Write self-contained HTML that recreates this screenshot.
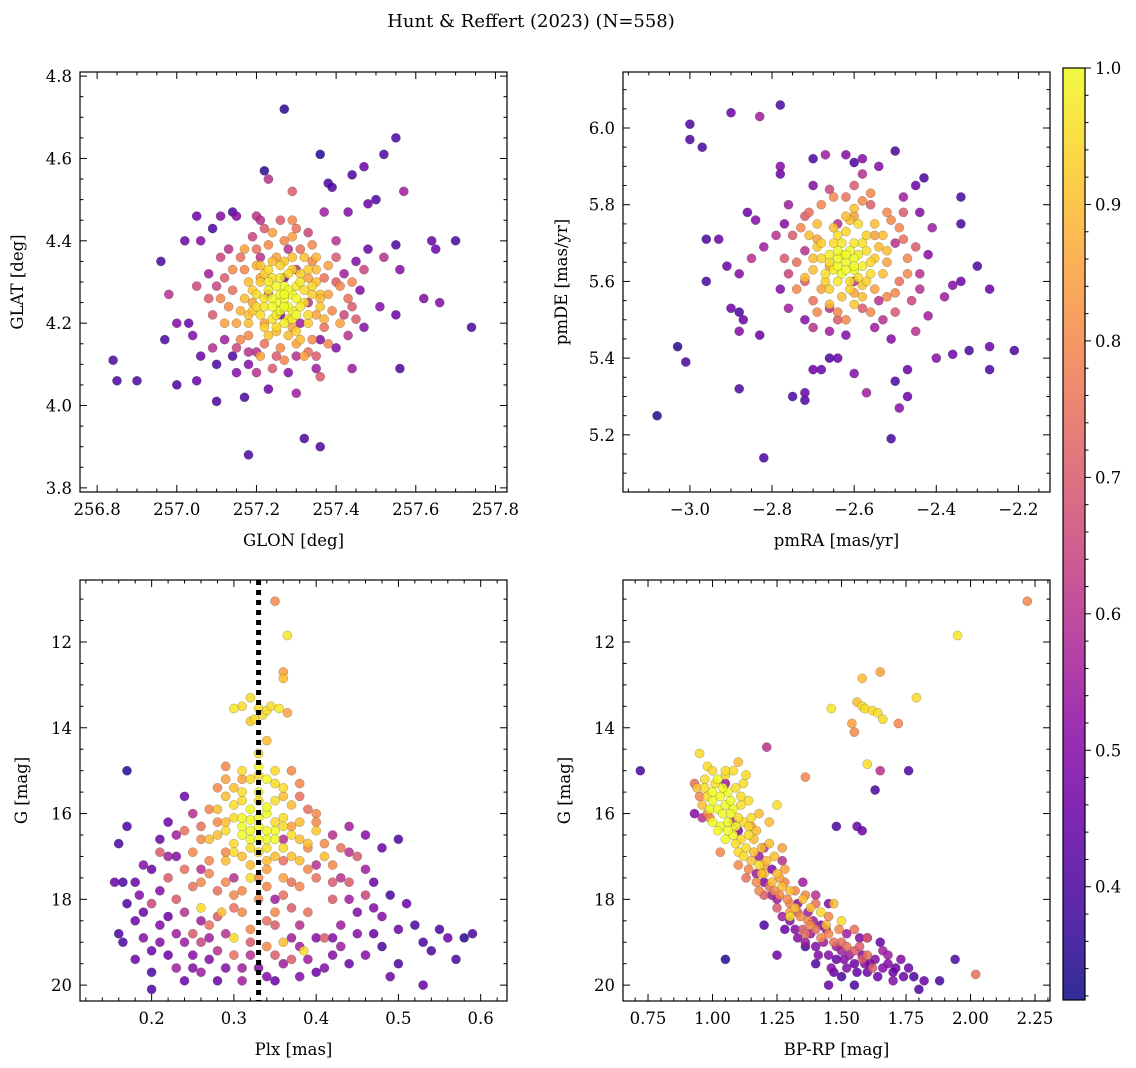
<!DOCTYPE html>
<html><head><meta charset="utf-8"><style>
html,body{margin:0;padding:0;background:#fff;}
svg{display:block;font-family:"DejaVu Serif","Liberation Serif",serif;}
</style></head><body>
<svg id="fig" width="1136" height="1068" viewBox="0 0 1136 1068" xmlns="http://www.w3.org/2000/svg">
<text x="531" y="27" font-size="18" text-anchor="middle">Hunt &amp; Reffert (2023) (N=558)</text>
</svg>
<script>
// ---------- DATA ----------
const p1Points=[[257.27,4.72,.35],[257.55,4.65,.4],[257.36,4.61,.35],[257.52,4.61,.4],[257.22,4.57,.35],[257.23,4.55,.6],[257.44,4.56,.4],[257.47,4.58,.45],[257.29,4.52,.7],[257.38,4.54,.4],[257.39,4.53,.4],[257.50,4.50,.4],[257.48,4.49,.45],[257.57,4.52,.55],[257.43,4.47,.5],[257.37,4.47,.55],[257.05,4.46,.45],[257.11,4.46,.5],[257.14,4.47,.4],[257.15,4.46,.5],[257.20,4.46,.6],[257.21,4.45,.6],[257.09,4.43,.4],[257.02,4.40,.45],[257.06,4.40,.5],[256.96,4.35,.4],[257.64,4.40,.45],[257.70,4.40,.4],[257.65,4.38,.45],[257.56,4.33,.5],[257.55,4.39,.4],[257.48,4.38,.45],[257.52,4.36,.6],[257.45,4.35,.5],[257.47,4.33,.65],[257.42,4.32,.55],[256.98,4.27,.6],[257.40,4.30,.7],[257.62,4.26,.5],[257.66,4.25,.5],[257.74,4.19,.4],[257.51,4.24,.5],[257.55,4.22,.45],[257.45,4.21,.7],[257.47,4.19,.5],[257.43,4.17,.6],[257.36,4.16,.5],[257.40,4.14,.5],[257.00,4.20,.5],[257.03,4.20,.45],[256.97,4.16,.4],[257.04,4.17,.5],[257.06,4.12,.45],[257.09,4.14,.6],[257.12,4.16,.55],[257.14,4.12,.4],[257.18,4.10,.5],[257.10,4.10,.4],[256.84,4.11,.4],[256.85,4.06,.4],[256.90,4.06,.4],[257.00,4.05,.4],[257.05,4.06,.45],[257.10,4.01,.4],[257.17,4.02,.4],[257.23,4.04,.45],[257.30,4.03,.55],[257.36,4.07,.7],[257.44,4.09,.55],[257.56,4.09,.4],[257.28,4.08,.5],[257.25,4.12,.7],[257.30,4.12,.6],[257.33,4.13,.75],[257.20,4.13,.6],[257.32,3.92,.4],[257.36,3.90,.4],[257.18,3.88,.4],[257.20,4.08,.6],[257.15,4.08,.5],
[257.17,4.33,.8],[257.20,4.38,.75],[257.24,4.42,.85],[257.27,4.40,.8],[257.31,4.38,.75],[257.34,4.35,.8],[257.37,4.31,.75],[257.38,4.27,.85],[257.39,4.23,.8],[257.37,4.19,.75],[257.34,4.16,.8],[257.30,4.15,.85],[257.26,4.14,.8],[257.22,4.15,.75],[257.18,4.17,.8],[257.15,4.20,.85],[257.13,4.24,.8],[257.14,4.28,.75],[257.12,4.31,.7],[257.19,4.41,.65],[257.26,4.45,.7],[257.33,4.42,.65],[257.40,4.36,.7],[257.43,4.26,.75],[257.42,4.22,.65],[257.35,4.12,.7],[257.24,4.09,.7],[257.15,4.14,.65],[257.09,4.22,.7],[257.10,4.29,.65],[257.16,4.36,.75],[257.21,4.31,.85],[257.33,4.31,.85],[257.35,4.22,.85],[257.22,4.20,.85],[257.25,4.36,.85],[257.29,4.19,.85],[257.19,4.25,.85],[257.36,4.27,.9],[257.32,4.36,.9],[257.18,4.30,.9],[257.25,4.18,.9],[257.08,4.26,.7],[257.05,4.29,.65],[257.44,4.30,.8],[257.29,4.45,.8],[257.21,4.36,.6],[257.30,4.33,.6],[257.27,4.31,.5],[257.23,4.27,.55],[257.33,4.25,.6],[257.31,4.20,.55],[257.26,4.22,.5],
[257.27,4.26,1],[257.25,4.25,1],[257.29,4.27,1],[257.23,4.28,.98],[257.31,4.24,.98],[257.27,4.29,1],[257.26,4.23,1],[257.22,4.24,.97],[257.30,4.29,.97],[257.24,4.31,.96],[257.28,4.32,.95],[257.32,4.28,.95],[257.33,4.22,.95],[257.29,4.21,.97],[257.24,4.21,.96],[257.21,4.22,.95],[257.20,4.27,.95],[257.26,4.34,.93],[257.31,4.32,.93],[257.34,4.27,.93],[257.30,4.18,.93],[257.22,4.19,.93],[257.19,4.23,.92],[257.21,4.30,.92],[257.27,4.20,.98],[257.25,4.29,1],[257.28,4.24,1],[257.35,4.30,.9],[257.17,4.26,.9],[257.28,4.17,.9],[257.24,4.35,.9],[257.23,4.33,.95],[257.33,4.33,.92],[257.36,4.24,.92],[257.18,4.20,.9],[257.29,4.36,.9],
[257.17,4.38,.85],[257.23,4.39,.8],[257.29,4.41,.85],[257.34,4.39,.8],[257.38,4.34,.85],[257.41,4.29,.8],[257.41,4.20,.85],[257.38,4.15,.8],[257.32,4.12,.85],[257.27,4.11,.8],[257.21,4.12,.85],[257.16,4.16,.8],[257.12,4.20,.85],[257.11,4.26,.8],[257.14,4.33,.8],[257.20,4.34,.88],[257.35,4.36,.88],[257.37,4.21,.88],[257.16,4.23,.88],[257.30,4.43,.75],[257.22,4.43,.7],[257.44,4.24,.7],[257.11,4.36,.65],[257.18,4.13,.6],[257.40,4.40,.6],[257.08,4.32,.55],[257.46,4.28,.5],[257.35,4.09,.55],[257.13,4.38,.6],[257.28,4.38,.6],
[257.26,4.27,1],[257.28,4.28,1],[257.24,4.26,1],[257.30,4.26,1],[257.27,4.24,1],[257.25,4.22,.98],[257.29,4.23,.98],[257.23,4.30,.97],[257.31,4.30,.97],[257.26,4.31,.98],[257.22,4.26,.96],[257.32,4.25,.96],[257.28,4.21,.95],[257.25,4.19,.95],[257.20,4.24,.95],[257.34,4.29,.94],[257.29,4.33,.94],[257.22,4.32,.93],[257.33,4.20,.93],[257.19,4.28,.93],[257.27,4.35,.92],[257.23,4.17,.92],[257.31,4.16,.9],[257.36,4.26,.9],[257.18,4.22,.9],[257.21,4.34,.9],[257.35,4.33,.9],[257.24,4.24,1],[257.30,4.22,1],[257.27,4.27,1]];
const p2Points=[[-3.08,5.25,.35],[-3.03,5.43,.35],[-3.01,5.39,.4],[-3.0,6.01,.4],[-3.0,5.97,.4],[-2.97,5.95,.4],[-2.9,6.04,.45],[-2.83,6.03,.55],[-2.78,6.06,.4],[-2.96,5.71,.4],[-2.93,5.71,.45],[-2.96,5.6,.4],[-2.91,5.64,.45],[-2.88,5.62,.5],[-2.88,5.52,.4],[-2.87,5.5,.45],[-2.9,5.53,.45],[-2.88,5.47,.5],[-2.88,5.32,.4],[-2.83,5.46,.45],[-2.82,5.14,.4],[-2.75,5.30,.4],[-2.72,5.29,.4],[-2.72,5.31,.45],[-2.7,5.37,.45],[-2.68,5.37,.45],[-2.66,5.40,.4],[-2.64,5.40,.45],[-2.6,5.36,.5],[-2.57,5.31,.55],[-2.51,5.19,.4],[-2.49,5.27,.5],[-2.47,5.30,.45],[-2.5,5.34,.4],[-2.47,5.37,.45],[-2.4,5.4,.5],[-2.36,5.41,.45],[-2.32,5.42,.4],[-2.27,5.43,.45],[-2.27,5.37,.4],[-2.21,5.42,.4],[-2.27,5.58,.45],[-2.3,5.64,.4],[-2.34,5.60,.45],[-2.36,5.59,.5],[-2.34,5.75,.4],[-2.34,5.82,.4],[-2.43,5.87,.4],[-2.5,5.94,.4],[-2.54,5.90,.5],[-2.58,5.92,.5],[-2.6,5.91,.4],[-2.62,5.93,.5],[-2.67,5.93,.55],[-2.7,5.92,.4],[-2.78,5.90,.5],[-2.78,5.88,.45],[-2.84,5.76,.5],[-2.86,5.78,.45],[-2.85,5.66,.6],[-2.82,5.69,.55],[-2.77,5.75,.5],[-2.44,5.78,.5],[-2.41,5.74,.55],[-2.42,5.67,.5],[-2.44,5.62,.6],[-2.38,5.56,.55],[-2.42,5.51,.55],[-2.45,5.47,.6],[-2.51,5.45,.5],[-2.55,5.48,.55],[-2.62,5.46,.5],[-2.66,5.47,.55],[-2.72,5.50,.5],[-2.76,5.53,.55],[-2.78,5.58,.5],[-2.45,5.85,.45],[-2.7,5.85,.5],[-2.66,5.53,.6],[-2.54,5.55,.6],
[-2.75,5.72,.7],[-2.74,5.65,.75],[-2.72,5.60,.7],[-2.7,5.55,.75],[-2.64,5.52,.8],[-2.58,5.53,.7],[-2.52,5.56,.8],[-2.49,5.60,.75],[-2.47,5.66,.8],[-2.48,5.71,.75],[-2.51,5.76,.8],[-2.56,5.8,.7],[-2.62,5.82,.75],[-2.68,5.8,.8],[-2.72,5.77,.7],[-2.69,5.71,.85],[-2.55,5.72,.85],[-2.55,5.58,.85],[-2.68,5.58,.85],[-2.66,5.64,.85],[-2.52,5.65,.85],[-2.6,5.77,.85],[-2.6,5.57,.85],[-2.5,5.52,.7],[-2.46,5.55,.65],[-2.76,5.62,.65],[-2.66,5.84,.65],[-2.48,5.78,.7],[-2.64,5.5,.7],[-2.56,5.83,.8],[-2.72,5.68,.6],[-2.5,5.7,.6],[-2.6,5.6,.6],[-2.64,5.75,.6],
[-2.73,5.74,.8],[-2.71,5.78,.75],[-2.65,5.82,.8],[-2.58,5.81,.8],[-2.52,5.78,.8],[-2.49,5.74,.8],[-2.47,5.62,.8],[-2.50,5.57,.8],[-2.56,5.52,.8],[-2.62,5.50,.8],[-2.69,5.52,.8],[-2.74,5.58,.8],[-2.77,5.66,.7],[-2.45,5.69,.7],[-2.60,5.85,.7],[-2.79,5.72,.6],[-2.44,5.58,.6],[-2.53,5.50,.6],[-2.70,5.48,.6],[-2.58,5.88,.6],[-2.76,5.80,.55],[-2.48,5.82,.55],
[-2.62,5.65,1],[-2.60,5.66,1],[-2.64,5.64,1],[-2.61,5.68,1],[-2.63,5.62,1],[-2.58,5.64,.98],[-2.66,5.67,.98],[-2.60,5.70,.97],[-2.64,5.60,.97],[-2.57,5.68,.96],[-2.67,5.62,.96],[-2.59,5.61,.95],[-2.65,5.70,.95],[-2.56,5.62,.95],[-2.68,5.66,.94],[-2.62,5.73,.94],[-2.61,5.58,.93],[-2.57,5.72,.93],[-2.69,5.69,.92],[-2.55,5.66,.92],[-2.65,5.74,.91],[-2.58,5.59,.92],[-2.70,5.63,.9],[-2.54,5.69,.9],[-2.63,5.56,.9],[-2.61,5.76,.9],[-2.66,5.58,.93],[-2.59,5.75,.95],[-2.6,5.79,.9],[-2.63,5.67,1],[-2.6,5.63,1],[-2.53,5.72,.9],[-2.71,5.72,.9],
[-2.62,5.67,1],[-2.64,5.66,1],[-2.60,5.64,1],[-2.62,5.63,1],[-2.59,5.67,.98],[-2.65,5.63,.98],[-2.63,5.70,.97],[-2.58,5.70,.96],[-2.66,5.65,.96],[-2.61,5.60,.96],[-2.56,5.65,.94],[-2.68,5.70,.93],[-2.57,5.60,.93],[-2.67,5.60,.93],[-2.64,5.72,.95],[-2.62,5.77,.9],[-2.55,5.75,.9],[-2.70,5.66,.9],[-2.58,5.56,.9],[-2.66,5.54,.9],[-2.53,5.62,.9],[-2.69,5.75,.9],[-2.60,5.54,.92],[-2.72,5.61,.9],[-2.52,5.68,.9],[-2.64,5.68,1]];
const p3Points=[[0.35,11.05,.8],[0.365,11.85,.97],[0.36,12.7,.85],[0.36,12.85,.9],[0.365,13.65,.85],[0.3,13.55,.97],[0.31,13.5,.95],[0.32,13.3,.95],[0.33,13.55,.95],[0.335,13.7,.95],[0.34,13.6,.95],[0.345,13.5,.95],[0.355,13.55,.97],[0.325,13.8,.95],[0.32,13.85,.92],
[0.28,15.4,.8],[0.27,15.9,.8],[0.26,16.3,.75],[0.25,16.9,.8],[0.24,17.3,.75],[0.26,17.6,.8],[0.28,17.8,.75],[0.30,17.9,.8],[0.33,18.0,.8],[0.36,17.9,.75],[0.38,17.7,.8],[0.40,17.5,.75],[0.42,17.2,.8],[0.43,16.8,.75],[0.40,16.0,.8],[0.38,15.6,.75],[0.37,15.0,.8],[0.29,14.9,.8],[0.22,17.5,.7],[0.23,18.0,.7],[0.27,18.6,.75],[0.32,18.7,.8],[0.35,18.6,.7],[0.39,18.3,.75],[0.42,18.0,.7],[0.44,17.6,.7],[0.45,17.0,.7],[0.21,16.9,.7],[0.30,19.3,.75],[0.34,19.1,.8],[0.37,19.4,.7],[0.41,18.9,.7],[0.25,18.8,.7],[0.20,18.1,.65],[0.31,18.3,.8],[0.35,18.3,.8],[0.29,16.9,.8],[0.37,16.3,.85],[0.31,15.2,.85],[0.34,17.7,.8],[0.39,16.8,.8],[0.27,17.1,.8],[0.46,17.9,.65],[0.36,17.1,.75],
[0.28,16.2,.8],[0.26,16.6,.8],[0.27,17.4,.8],[0.29,17.6,.8],[0.31,17.8,.8],[0.33,17.5,.8],[0.37,17.6,.75],[0.39,17.3,.8],[0.41,16.7,.8],[0.40,16.2,.8],[0.39,15.9,.75],[0.25,17.7,.75],[0.30,18.2,.75],[0.34,18.5,.75],[0.37,18.2,.7],[0.28,18.4,.7],[0.29,15.2,.85],[0.38,15.3,.8],[0.24,16.4,.75],[0.42,17.6,.7],[0.35,19.3,.7],[0.26,19.0,.65],[0.32,19.0,.7],
[0.17,15.0,.35],[0.17,16.3,.4],[0.16,16.7,.4],[0.155,17.6,.45],[0.165,17.6,.4],[0.18,17.6,.45],[0.185,17.9,.5],[0.17,18.1,.4],[0.19,18.3,.45],[0.16,18.8,.4],[0.165,19.0,.4],[0.19,18.9,.5],[0.20,19.2,.45],[0.21,19.0,.5],[0.20,19.7,.4],[0.20,20.1,.4],[0.22,18.4,.45],[0.23,18.8,.55],[0.22,19.3,.45],[0.23,19.6,.55],[0.24,19.9,.45],[0.25,19.3,.5],[0.26,19.7,.55],[0.27,19.4,.5],[0.28,19.9,.45],[0.29,19.6,.5],[0.31,19.9,.55],[0.33,19.6,.5],[0.35,19.9,.45],[0.36,19.5,.55],[0.38,19.8,.5],[0.39,19.4,.55],[0.40,19.7,.45],[0.42,19.3,.5],[0.44,19.5,.45],[0.46,19.3,.5],[0.48,19.1,.4],[0.50,19.5,.4],[0.53,20.0,.45],[0.53,19.0,.4],[0.54,19.2,.4],[0.56,18.9,.45],[0.57,19.4,.4],[0.58,18.9,.35],[0.59,18.8,.4],[0.55,18.7,.4],[0.52,18.6,.4],[0.50,18.7,.45],[0.48,18.4,.5],[0.49,17.9,.4],[0.47,17.6,.45],[0.50,16.6,.4],[0.48,16.8,.45],[0.46,16.5,.5],[0.44,16.3,.55],[0.45,18.3,.5],[0.43,18.6,.55],[0.42,18.9,.5],[0.21,16.6,.45],[0.22,16.2,.45],[0.23,17.0,.5],[0.24,15.6,.45],[0.25,16.0,.6],[0.20,17.3,.45],[0.21,17.8,.5],[0.24,18.3,.6],[0.26,18.5,.55],[0.18,18.5,.45],[0.40,17.2,.6],[0.43,17.5,.6],[0.30,17.5,.6],[0.35,18.0,.55],[0.28,19.2,.6],[0.32,19.3,.6],[0.44,18.0,.55],[0.38,18.6,.6],[0.26,17.3,.6],[0.36,16.6,.6],[0.42,16.5,.6],[0.23,16.5,.55],[0.51,18.1,.45],[0.47,18.8,.45],
[0.21,18.6,.5],[0.24,19.0,.55],[0.27,18.9,.55],[0.31,19.6,.55],[0.34,19.8,.5],[0.37,18.9,.55],[0.40,18.9,.5],[0.43,19.1,.55],[0.45,18.8,.5],[0.47,18.2,.5],[0.46,17.3,.55],[0.44,16.9,.6],[0.19,17.2,.5],[0.18,19.4,.45],[0.25,19.6,.5],[0.29,18.8,.6],[0.22,17.0,.55],[0.41,19.6,.5],[0.38,19.1,.55],[0.49,19.8,.45],
[0.33,14.6,.95],[0.33,14.9,1],[0.31,15.0,.95],[0.35,15.0,.95],[0.32,15.2,.95],[0.34,15.2,1],[0.30,15.4,.9],[0.36,15.4,.95],[0.29,15.6,.9],[0.33,15.5,1],[0.35,15.7,.95],[0.31,15.7,.95],[0.37,15.8,.9],[0.28,15.9,.9],[0.32,15.9,1],[0.34,16.0,1],[0.30,16.1,.95],[0.36,16.1,.95],[0.38,16.2,.9],[0.31,16.3,1],[0.33,16.3,1],[0.35,16.4,1],[0.29,16.4,.95],[0.37,16.5,.95],[0.32,16.6,1],[0.34,16.6,1],[0.30,16.7,.95],[0.39,16.7,.9],[0.36,16.8,.95],[0.33,16.9,.95],[0.31,17.0,.9],[0.35,17.0,.9],[0.38,17.1,.9],[0.29,17.1,.9],[0.34,17.3,.85],[0.41,17.0,.9],[0.27,16.6,.9],[0.40,16.4,.92],[0.32,17.5,.95],[0.36,17.5,.85],[0.30,18.9,.95],[0.36,19.0,.9],[0.385,19.2,.95],[0.285,18.3,.9],[0.26,18.2,.95],[0.34,14.3,.9],[0.34,15.85,1],[0.32,16.15,1],
[0.30,15.8,.95],[0.32,16.4,1],[0.34,16.4,1],[0.33,16.1,1],[0.31,16.5,1],[0.35,16.2,.95],[0.30,16.9,.95],[0.34,16.8,.95],[0.32,17.2,.9],[0.36,16.3,.95],[0.33,15.7,.95],[0.31,15.5,.95],[0.35,15.3,.95],[0.33,15.1,.95],[0.36,15.6,.9],[0.29,16.2,.9],[0.37,17.0,.9],[0.32,16.8,.95],[0.34,17.1,.9],[0.28,16.5,.9],[0.38,16.6,.9],[0.35,16.6,1],[0.33,16.6,1],[0.31,16.1,1]];
const p4Points=[[0.72,15.0,.4],[2.22,11.05,.8],[1.95,11.85,.97],[1.65,12.7,.85],[1.58,12.85,.9],[1.79,13.3,.95],[1.56,13.4,.9],[1.58,13.5,.95],[1.59,13.55,.95],[1.62,13.6,.95],[1.64,13.65,.95],[1.66,13.8,.95],[1.54,13.9,.85],[1.72,13.9,.8],[1.46,13.55,.97],[1.55,14.1,.8],[1.6,14.85,.95],[1.63,15.45,.4],[1.76,15.0,.4],[1.36,15.15,.8],[1.21,14.45,.6],[1.65,15.0,.6],[1.58,16.4,.45],[1.48,16.3,.4],[1.56,16.3,.45],[1.05,19.4,.35],[1.2,18.6,.4],[1.6,18.9,.5],[1.88,19.9,.4],[1.94,19.4,.4],[2.02,19.75,.75],[1.8,20.1,.4],[1.55,20.0,.4],
[1.2,17.6,.5],[1.25,18.0,.55],[1.3,18.5,.5],[1.28,18.7,.45],[1.33,18.9,.5],[1.38,18.8,.55],[1.4,19.1,.5],[1.43,19.0,.55],[1.45,19.3,.5],[1.48,19.4,.45],[1.5,19.2,.55],[1.52,19.6,.5],[1.55,19.5,.45],[1.58,19.3,.5],[1.6,19.7,.45],[1.63,19.4,.5],[1.66,19.2,.55],[1.68,19.5,.5],[1.7,19.7,.45],[1.73,19.4,.5],[1.76,19.6,.45],[1.78,19.8,.4],[1.82,19.9,.45],[1.7,19.9,.5],[1.47,19.7,.45],[1.42,18.6,.5],[1.37,18.3,.55],[1.33,18.1,.5],[1.23,17.3,.5],[1.18,17.0,.55],[1.1,16.4,.5],[1.08,16.2,.6],[1.35,17.6,.55],[1.45,18.1,.5],[1.52,18.8,.55],[1.57,18.9,.5],[1.65,19.0,.45],[1.4,19.5,.4],[1.5,19.8,.4],[1.45,20.0,.45],[1.25,19.3,.45],[1.36,19.1,.4],[1.05,15.3,.55],[1.2,16.8,.6],[1.27,17.1,.6],[1.4,17.9,.6],
[1.27,18.4,.55],[1.32,18.7,.5],[1.36,19.0,.55],[1.41,19.3,.5],[1.46,19.6,.5],[1.51,19.4,.5],[1.56,19.7,.45],[1.61,19.5,.5],[1.66,19.6,.5],[1.71,19.6,.45],[1.74,19.8,.45],[1.39,18.5,.55],[1.44,18.7,.55],[1.48,19.1,.55],[1.53,19.3,.55],[1.59,19.5,.5],[1.64,19.8,.45],[1.68,19.3,.55],[1.23,17.9,.55],[1.17,17.4,.55],
[0.93,15.3,.75],[0.95,15.6,.8],[0.98,16.0,.8],[1.1,17.2,.8],[1.13,17.5,.75],[1.17,17.6,.8],[1.22,17.7,.75],[1.26,17.9,.8],[1.3,18.1,.8],[1.33,18.3,.75],[1.37,18.5,.8],[1.4,18.7,.75],[1.45,18.8,.8],[1.5,19.0,.75],[1.55,19.2,.7],[1.6,19.3,.75],[1.28,17.6,.8],[1.32,17.8,.8],[1.36,17.9,.8],[1.4,18.1,.75],[1.45,18.4,.8],[1.55,18.7,.75],[1.6,18.9,.7],[1.62,19.6,.7],[1.2,17.9,.7],[1.25,18.2,.7],[1.35,18.7,.7],[1.15,16.3,.85],[1.27,16.8,.85],
[1.14,17.3,.8],[1.18,17.8,.8],[1.24,17.8,.8],[1.29,18.0,.8],[1.34,18.4,.8],[1.38,18.6,.8],[1.42,18.9,.8],[1.47,19.0,.75],[1.52,19.1,.75],[1.57,19.1,.7],[1.30,18.3,.85],[1.26,17.5,.85],[1.20,17.2,.85],[1.36,18.8,.75],[1.49,18.7,.8],[1.58,19.4,.7],[0.99,16.1,.8],
[0.95,14.6,.95],[0.98,14.9,.95],[1.0,15.0,.95],[1.02,15.2,1],[1.05,15.1,.95],[1.08,15.0,.95],[1.1,14.8,.9],[0.94,15.4,.9],[0.97,15.4,.95],[1.0,15.5,1],[1.03,15.6,1],[1.06,15.5,1],[1.09,15.4,.95],[1.12,15.3,.95],[0.96,15.8,.9],[0.99,15.9,1],[1.02,15.9,1],[1.05,15.8,1],[1.08,15.9,1],[1.11,15.8,.95],[1.14,15.7,.95],[1.0,16.2,1],[1.03,16.3,1],[1.06,16.2,1],[1.09,16.3,1],[1.12,16.2,.95],[1.15,16.1,.95],[1.18,16.0,.9],[1.05,16.6,1],[1.08,16.5,1],[1.11,16.6,.95],[1.14,16.5,.95],[1.17,16.4,.9],[1.1,16.9,.95],[1.13,16.8,.95],[1.16,16.9,.9],[1.19,16.8,.9],[1.22,16.7,.9],[1.15,17.1,.9],[1.18,17.2,.95],[1.21,17.1,.9],[1.24,17.0,.9],[1.2,17.4,.9],[1.25,17.4,.9],[1.28,17.3,.85],[1.3,17.8,.9],[1.35,18.0,.9],[1.42,18.3,.95],[1.5,18.5,.95],[0.93,16.0,.5],[0.96,16.1,.6],[1.03,16.9,.8],[1.13,15.1,.95],[1.25,15.8,.95],[1.22,16.2,.9],[1.47,18.1,.9],[1.3,18.4,.95],
[0.97,15.2,.95],[1.0,15.7,1],[1.04,16.0,1],[1.07,16.0,1],[1.02,16.4,1],[1.06,16.4,1],[1.09,16.7,.95],[1.12,17.0,.95],[1.14,16.3,.95],[1.01,15.3,.95],[1.07,15.7,1],[0.98,15.6,.95],[1.04,15.4,1],[1.1,16.1,.95],[1.16,16.6,.9],[1.19,17.4,.9],[1.23,17.6,.9],[1.27,17.7,.9],[1.32,18.2,.9],[1.38,18.2,.9],[1.44,18.6,.9],[1.05,15.0,.95],[1.11,15.6,.95]];
const p1XTicks=[256.8,257.0,257.2,257.4,257.6,257.8];
const p1YTicks=[3.8,4.0,4.2,4.4,4.6,4.8];
const p2XTicks=[-3.0,-2.8,-2.6,-2.4,-2.2];
const p2YTicks=[5.2,5.4,5.6,5.8,6.0];
const p3XTicks=[0.2,0.3,0.4,0.5,0.6];
const gTicks=[12,14,16,18,20];
const p4XTicks=[0.75,1.00,1.25,1.50,1.75,2.00,2.25];
const cbTicks=[0.4,0.5,0.6,0.7,0.8,0.9,1.0];
const plxCut=[0.33];

// ---------- RENDER ----------
const NS="http://www.w3.org/2000/svg";
const svg=document.getElementById('fig');
function mk(tag,attrs,parent){const e=document.createElementNS(NS,tag);for(const k in attrs)e.setAttribute(k,attrs[k]);(parent||svg).appendChild(e);return e;}
const stops=[[13,8,135],[65,4,157],[106,0,168],[143,13,164],[177,42,144],[204,71,120],[225,100,98],[242,132,75],[252,166,54],[252,206,37],[240,249,33]];
const CMIN=0.317,CMAX=1.0;
function cmap(p){let t=(p-CMIN)/(CMAX-CMIN);t=Math.max(0,Math.min(1,t));const f=t*10,i=Math.min(9,Math.floor(f)),r=f-i;const a=stops[i],b=stops[i+1];return 'rgb('+a.map((v,k)=>Math.round(v+(b[k]-v)*r)).join(',')+')';}
function fmt(v,d){let s=v.toFixed(d);return s.startsWith('-')?'\u2212'+s.slice(1):s;}

function panel(o){
  const g=mk('g',{});
  
  
  const X=v=>o.x0+(v-o.xmin)/(o.xmax-o.xmin)*(o.x1-o.x0);
  const YY=o.yinv?(v=>o.y0+(v-o.ymin)/(o.ymax-o.ymin)*(o.y1-o.y0)):(v=>o.y1-(v-o.ymin)/(o.ymax-o.ymin)*(o.y1-o.y0));
  const cp='clip-'+o.name;
  const cl=mk('clipPath',{id:cp},g);mk('rect',{x:o.x0,y:o.y0,width:o.x1-o.x0,height:o.y1-o.y0},cl);
  const pts=mk('g',{'clip-path':'url(#'+cp+')'},g);
  
  
  const sorted=o.data.slice().sort((a,b)=>a[2]-b[2]);
  sorted.forEach(d=>{const c=mk('circle',{cx:X(d[0]).toFixed(1),cy:YY(d[1]).toFixed(1),r:4.6,fill:cmap(d[2]),'fill-opacity':0.85,stroke:'rgba(60,60,60,0.45)','stroke-width':0.5},pts);
    
    });
  if(o.vline){o.vline.forEach(v=>{const l=mk('line',{x1:X(v),x2:X(v),y1:o.y0,y2:o.y1,stroke:'#000','stroke-width':5,'stroke-dasharray':'5,5'},g);
    
    });}
  const tk=mk('g',{stroke:'#000','stroke-width':1},g);
  for(let v=o.xmin-((o.xmin%o.xminor)+o.xminor)%o.xminor;v<=o.xmax+1e-9;v+=o.xminor){if(v<o.xmin-1e-9)continue;const px=X(v);const major=o.xt.some(t=>Math.abs(t-v)<1e-6);const L=major?7:3.5;
    mk('line',{x1:px,x2:px,y1:o.y1,y2:o.y1-L},tk);mk('line',{x1:px,x2:px,y1:o.y0,y2:o.y0+L},tk);}
  for(let v=Math.ceil(o.ymin/o.yminor-1e-9)*o.yminor;v<=o.ymax+1e-9;v+=o.yminor){const py=YY(v);const major=o.yt.some(t=>Math.abs(t-v)<1e-6);const L=major?7:3.5;
    mk('line',{x1:o.x0,x2:o.x0+L,y1:py,y2:py},tk);mk('line',{x1:o.x1,x2:o.x1-L,y1:py,y2:py},tk);}
  const fr=mk('rect',{x:o.x0,y:o.y0,width:o.x1-o.x0,height:o.y1-o.y0,fill:'none',stroke:'#000','stroke-width':1.2},g);
  
  
  o.xt.forEach(v=>{const t=mk('text',{x:X(v),y:o.y1+23,'font-size':16.5,'text-anchor':'middle'},g);t.textContent=fmt(v,o.xd);
    
    });
  o.yt.forEach(v=>{const t=mk('text',{x:o.x0-8,y:YY(v)+6,'font-size':16.5,'text-anchor':'end'},g);t.textContent=fmt(v,o.yd);
    
    });
  const xl=mk('text',{x:(o.x0+o.x1)/2,y:o.y1+54,'font-size':16.5,'text-anchor':'middle'},g);xl.textContent=o.xlab;
  
  
  const cy=(o.y0+o.y1)/2;
  const yl=mk('text',{x:o.ylx,y:cy,'font-size':16.5,'text-anchor':'middle',transform:'rotate(-90 '+o.ylx+' '+cy+')'},g);yl.textContent=o.ylab;
  
  
}
panel({name:'glon-glat-panel',data:p1Points,x0:80,x1:507,y0:72,y1:492,xmin:256.757,xmax:257.829,ymin:3.79,ymax:4.81,xt:p1XTicks,yt:p1YTicks,xminor:0.05,yminor:0.05,xd:1,yd:1,xlab:'GLON [deg]',ylab:'GLAT [deg]',ylx:23});
panel({name:'proper-motion-panel',data:p2Points,x0:623,x1:1050,y0:72,y1:492,xmin:-3.163,xmax:-2.123,ymin:5.051,ymax:6.146,xt:p2XTicks,yt:p2YTicks,xminor:0.05,yminor:0.05,xd:1,yd:1,xlab:'pmRA [mas/yr]',ylab:'pmDE [mas/yr]',ylx:567});
panel({name:'parallax-mag-panel',data:p3Points,x0:80,x1:507,y0:580,y1:1001,xmin:0.1129,xmax:0.632,ymin:10.555,ymax:20.37,yinv:true,xt:p3XTicks,yt:gTicks,xminor:0.02,yminor:0.5,xd:1,yd:0,xlab:'Plx [mas]',ylab:'G [mag]',ylx:27,vline:plxCut});
panel({name:'cmd-panel',data:p4Points,x0:623,x1:1050,y0:580,y1:1001,xmin:0.653,xmax:2.308,ymin:10.555,ymax:20.37,yinv:true,xt:p4XTicks,yt:gTicks,xminor:0.05,yminor:0.5,xd:2,yd:0,xlab:'BP-RP [mag]',ylab:'G [mag]',ylx:570});

const cb=mk('g',{});


const defs=mk('defs',{},cb);
const lg=mk('linearGradient',{id:'plasma',x1:0,y1:1,x2:0,y2:0},defs);
stops.forEach((s,i)=>mk('stop',{offset:(i/10),'stop-color':'rgb('+s.join(',')+')'},lg));
const CB={x0:1063,x1:1085,y0:68,y1:1000};
const CY=v=>CB.y1-(v-CMIN)/(CMAX-CMIN)*(CB.y1-CB.y0);
mk('rect',{x:CB.x0,y:CB.y0,width:CB.x1-CB.x0,height:CB.y1-CB.y0,fill:'url(#plasma)','fill-opacity':0.85},cb);
for(let v=0.32;v<=1.0001;v+=0.02){const py=CY(v);const major=cbTicks.some(t=>Math.abs(t-v)<1e-6);mk('line',{x1:CB.x1,x2:CB.x1+(major?6:3.5),y1:py,y2:py,stroke:'#000','stroke-width':1},cb);}
cbTicks.forEach(v=>{const t=mk('text',{x:CB.x1+10,y:CY(v)+6,'font-size':16.5},cb);t.textContent=v.toFixed(1);
  
  });
mk('rect',{x:CB.x0,y:CB.y0,width:CB.x1-CB.x0,height:CB.y1-CB.y0,fill:'none',stroke:'#000','stroke-width':1.2},cb);
</script>
</body></html>
